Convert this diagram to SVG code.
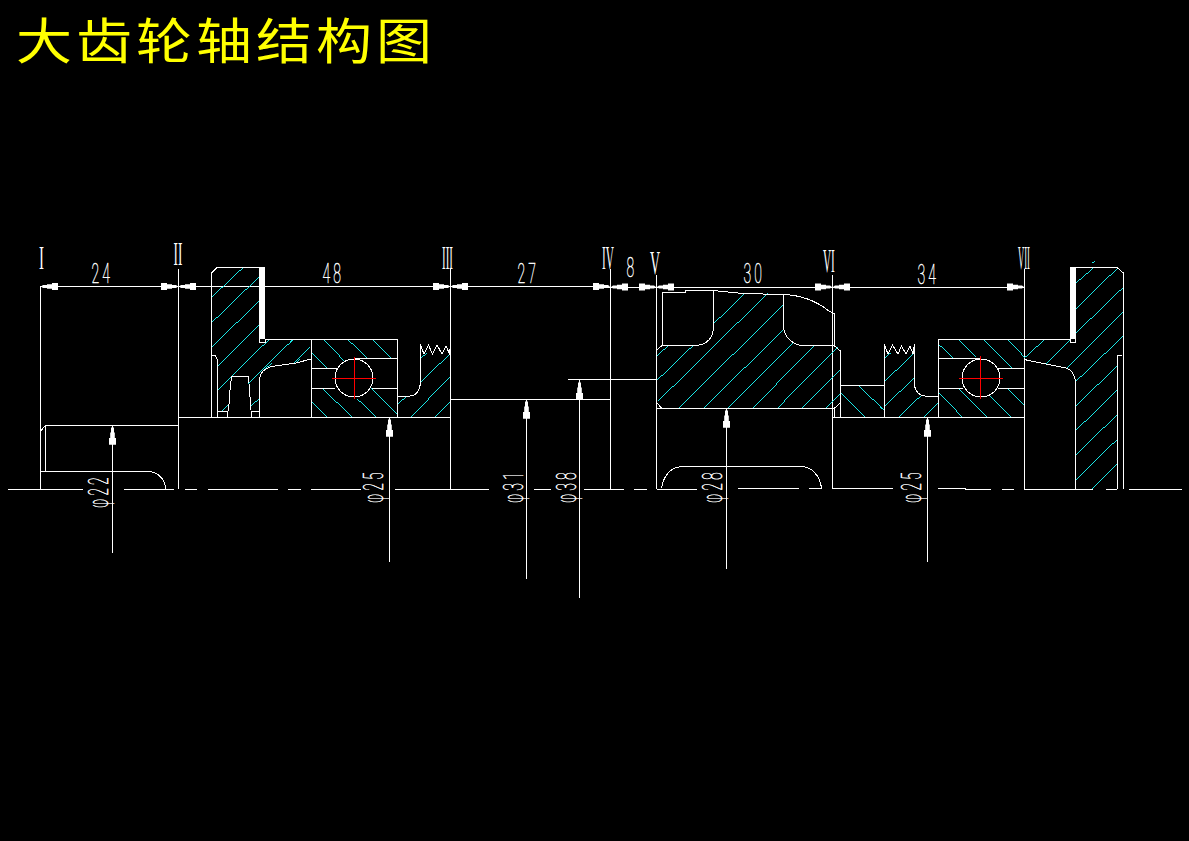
<svg xmlns="http://www.w3.org/2000/svg" xmlns:xlink="http://www.w3.org/1999/xlink" width="1189" height="841" viewBox="0 0 1189 841">
<style>
.o{fill:none;stroke:#fff;stroke-width:1;shape-rendering:crispEdges}
.c{fill:none;stroke:#fff;stroke-width:1;shape-rendering:crispEdges}
.h{fill:none;stroke:#19e6e6;stroke-width:3;shape-rendering:crispEdges}
.r{fill:none;stroke:#f00;stroke-width:1;shape-rendering:crispEdges}
.t{font-family:"Roboto","Liberation Sans",sans-serif;font-weight:100;font-size:28px;fill:#fff;stroke:#fff;stroke-width:.5px;letter-spacing:6px}
.n{font-family:"Liberation Serif",serif;font-size:33px;fill:#fff}
.title{font-family:"Noto Sans CJK SC",sans-serif;font-size:56px;fill:#ff0;letter-spacing:4px}
</style>
<defs>
<path id="a" d="M0 0L2 -1.500L6 -1.500L6 -2.300L11 -2.300L11 -3.500L17 -3.500L17 3.500L11 3.500L11 2.300L6 2.300L6 1.500L2 1.500Z" fill="#fff"/>
</defs>
<rect width="1189" height="841" fill="#000"/>
<text id="title" class="title" transform="translate(16 59) scale(1 .88)">大齿轮轴结构图</text>
<g id="connectors">
<path class="o" d="M8 489.500H83M124 489.500H174M185 489.500H197M208 489.500H278M288 489.500H301M311 489.500H361M395 489.500H489M534 489.500H551M584 489.500H624M634 489.500H647M657 489.500H697M738 488.500H799M809 488.500H822M832 488.500H893M938 488.500H965V489.500H991M1002 489.500H1014M1024 489.500H1093M1106 489.500H1117M1129 489.500H1182"/>
<path class="o" d="M40.500 286.500H600M600 287H1024M40.500 286V489M178.500 269V489M450.500 269V489M610.500 269V489M656.500 275V489M832.500 275V489M1024.500 269V489"/>
<path class="o" d="M112.500 425V553M389.500 417V562M526.500 399V579M579.500 380V598M726.500 408V569M927.500 417V562M568 379.500H657M450 399.500H610"/>
<g>
<use xlink:href="#a" href="#a" transform="translate(41 286.500)"/>
<use xlink:href="#a" href="#a" transform="translate(178 286.500) rotate(180)"/>
<use xlink:href="#a" href="#a" transform="translate(179 286.500)"/>
<use xlink:href="#a" href="#a" transform="translate(450 286.500) rotate(180)"/>
<use xlink:href="#a" href="#a" transform="translate(451 286.500)"/>
<use xlink:href="#a" href="#a" transform="translate(610 286.500) rotate(180)"/>
<use xlink:href="#a" href="#a" transform="translate(611 287)"/>
<use xlink:href="#a" href="#a" transform="translate(656 287) rotate(180)"/>
<use xlink:href="#a" href="#a" transform="translate(657 287)"/>
<use xlink:href="#a" href="#a" transform="translate(832 287) rotate(180)"/>
<use xlink:href="#a" href="#a" transform="translate(833 287)"/>
<use xlink:href="#a" href="#a" transform="translate(1024 287) rotate(180)"/>
<use xlink:href="#a" href="#a" transform="translate(112.500 426) rotate(90) scale(1.100 1)"/>
<use xlink:href="#a" href="#a" transform="translate(389.500 418) rotate(90) scale(1.100 1)"/>
<use xlink:href="#a" href="#a" transform="translate(526.500 400) rotate(90) scale(1.100 1)"/>
<use xlink:href="#a" href="#a" transform="translate(579.500 381) rotate(90) scale(1.100 1)"/>
<use xlink:href="#a" href="#a" transform="translate(726.500 409) rotate(90) scale(1.100 1)"/>
<use xlink:href="#a" href="#a" transform="translate(927.500 418) rotate(90) scale(1.100 1)"/>
</g>
</g>
<g id="hatch">
<path class="h" transform="translate(0 240) scale(.3333)" d="M635 172L728 84M635 248L778 110M635 322L778 182M653 378L778 254M653 450L806 300M745 430L880 298M790 392L815 370M888 370L900 356M750 500L778 476M665 515L688 490"/>
<path class="h" transform="translate(290 240) scale(.3333)" d="M0 306L8 298M12 370L60 320M100 298L165 365M173 298L232 355M248 298L305 355M62 335L112 385M97 445L187 532M200 475L260 532M243 445L320 520M62 482L112 532M322 495L350 468M362 532L481 410M435 532L481 485M392 428L481 340M392 355L412 338"/>
<path class="h" transform="translate(590 240) scale(.3333)" d="M200 350L235 316M200 422L310 316M205 483L533 160M372 250L465 160M265 505L580 195M340 505L580 270M413 505L608 310M487 505L675 316M562 505L742 322M635 505L751 388M708 505L751 460M751 458L826 532M806 436L883 512"/>
<path class="h" transform="translate(880 240) scale(.3333)" d="M13 355L33 338M13 425L104 338M13 500L104 412M55 532L125 465M132 532L172 490M0 437L13 435M0 500L13 512M236 298L290 352M310 298L397 385M383 298L432 350M173 310L220 355M173 455L248 532M238 448L322 532M330 468L395 532M383 445L432 495M432 355L495 298M497 372L570 300M587 130L640 84M636 70L645 64M587 208L713 84M587 280L730 142M560 385L730 215M587 425L730 288M587 498L712 378M587 572L712 450M587 645L712 524M587 720L712 598M636 747L712 672"/>
</g>
<g id="shaft-left">
<path class="o" d="M178 417.500H450M45.500 425.500H178M45.500 425.500V471M40 471.500H149"/>
<path class="c" d="M40.500 431L45.500 425.500M149 471.500C158 472 165 479 165.500 489"/>
</g>
<g id="gear-left">
<path class="o" d="M211.500 273V417M259 267.500H217M265 339.500H397M217.500 360V417"/>
<rect x="259" y="267" width="6" height="72" fill="#fff"/>
<path class="o" d="M259.500 339V342.500H265V339M259.500 417V382"/>
<path class="c" d="M211.500 273L217 267.500M211.500 355.500H215L217.500 360M231.500 376.500H248.500M231.500 376.500L230 390L228.500 411M248.500 376.500L250 397L251.500 417M217.500 411.500H227.500V417M251.500 411.500H259.500M259.500 382C259.500 375 262 371 266 369L271 366.500L296 363L311 359"/>
</g>
<g id="bearing-left">
<path class="o" d="M311.500 339V417M397.500 339V417M355 358.500H397M311 368.500H337M311 388.500H335M372 388.500H397M397 396.500H410"/>
<circle class="c" cx="354" cy="378" r="19"/>
<path class="r" d="M332 378.500H376M354.500 357V399"/>
</g>
<g id="teeth-left">
<path class="c" d="M420.500 344V383C420 391 415 396 410 396M420.500 345L424 354L428.500 345L432.500 354L437 345L442 354L446 346L449.500 354L450.500 345"/>
</g>
<g id="hub">
<path class="o" d="M662.500 292V345M662 345.500H697M713.500 291V327M783.500 295V328M800 345.500H834M834.500 314V345M657 408.500H834M834.500 408V417M840.500 351V417M840 385.500H884M832 417.500H1024M884.500 344V417"/>
<path class="c" d="M662 292.500H685V290.500H713L743 293.500L783 294.500C800 295 815 300 829 311L834.500 314M697 345.500C708 344 713 338 713.500 327M783.500 328C785 338 792 343 800 345.500M657 350L662 345.500M834 345.500L840.500 351M834 408.500L840.500 403M657 403L662 408.500"/>
<path class="c" d="M661.500 488C664 474 672 467 683 466.500H802C812 467 820 476 821.500 488"/>
</g>
<g id="teeth-right">
<path class="c" d="M884.500 345L888 354L892.500 345L898 354L901.500 346L906 354L910 346L913 354L914.500 344V385C915 392 920 396 925 396H938"/>
</g>
<g id="bearing-right">
<path class="o" d="M938 339.500H1070M938.500 339V417M938 358.500H980M938 388.500H963M998 368.500H1024M998 388.500H1024"/>
<circle class="c" cx="981" cy="378" r="19"/>
<path class="r" d="M959 378.500H1003M980.500 356V399"/>
</g>
<g id="gear-right">
<rect x="1070" y="267" width="6" height="72" fill="#fff"/>
<path class="o" d="M1070 267.500H1117M1070.500 339V342.500H1075.500V339M1075.500 382V489M1117.500 356V489M1123.500 273V489"/>
<path class="c" d="M1117 267.500L1123.500 273M1117.500 356L1122 355M1024 359.500L1066 368C1072 370 1075 376 1075.500 382"/>
</g>
<g id="labels">
<text class="t" transform="translate(91.500 283) scale(.5 .98)">24</text>
<text class="t" transform="translate(322.500 283) scale(.5 .98)">48</text>
<text class="t" transform="translate(517.500 283) scale(.5 .98)">27</text>
<text class="t" transform="translate(626.500 277) scale(.5 .98)">8</text>
<text class="t" transform="translate(743.500 283) scale(.5 .98)">30</text>
<text class="t" transform="translate(917.500 284) scale(.5 .98)">34</text>
<text class="t" transform="translate(108 508) rotate(-90) scale(.5 .98)">φ22</text>
<text class="t" transform="translate(383 503) rotate(-90) scale(.5 .98)">φ25</text>
<text class="t" transform="translate(523 503) rotate(-90) scale(.5 .98)">φ31</text>
<text class="t" transform="translate(576 503) rotate(-90) scale(.5 .98)">φ38</text>
<text class="t" transform="translate(722 503) rotate(-90) scale(.5 .98)">φ28</text>
<text class="t" transform="translate(921 503) rotate(-90) scale(.5 .98)">φ25</text>
<text class="n" transform="translate(39 269) scale(.45 1)">I</text>
<text class="n" transform="translate(173.500 265) scale(.4 1)">II</text>
<text class="n" transform="translate(442 269) scale(.33 1)">III</text>
<text class="n" transform="translate(602 269) scale(.34 1)">IV</text>
<text class="n" transform="translate(650 274) scale(.42 1)">V</text>
<text class="n" transform="translate(823 272) scale(.34 1)">VI</text>
<text class="n" transform="translate(1018 269) scale(.26 1)">VII</text>
</g>
</svg>
